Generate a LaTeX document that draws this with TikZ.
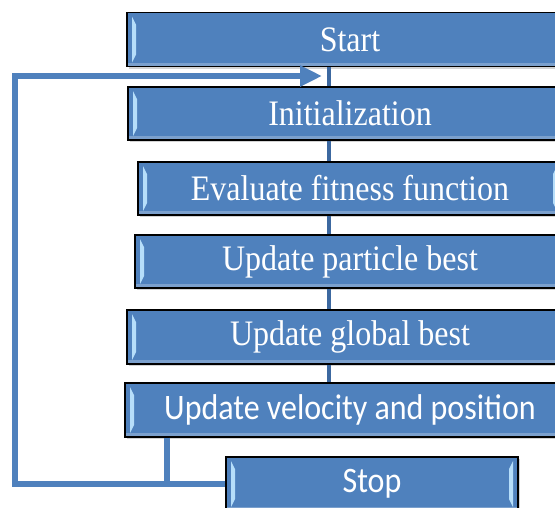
\documentclass[tikz,border=0pt]{standalone}
\usepackage{fontspec}
\setmainfont{Liberation Serif}
\newfontfamily\calibfont{Carlito}
\usepackage{graphicx}
\usetikzlibrary{arrows.meta,shadows}
\definecolor{psoblue}{RGB}{79,129,189}
\definecolor{psodark}{RGB}{60,104,160}
\definecolor{psoglow}{RGB}{182,222,250}
\newcommand{\tallText}[1]{\scalebox{1}[1.12]{#1}}

\tikzset{
  stepbox/.style={draw=black, line width=1.4pt, fill=psoblue, text=white,
    minimum height=54pt, inner sep=0pt, font=\fontsize{32}{36}\selectfont,
    drop shadow={shadow xshift=2pt,shadow yshift=-2pt,opacity=0.35},
    path picture={
      %% left bevel
      \fill[psoglow] ([shift={(5pt,-4pt)}]path picture bounding box.north west)
        -- ++(4pt,-8pt) -- ([shift={(9pt,12pt)}]path picture bounding box.south west)
        -- ([shift={(5pt,4pt)}]path picture bounding box.south west) -- cycle;
      %% right bevel
      \fill[psoglow] ([shift={(-5pt,-4pt)}]path picture bounding box.north east)
        -- ++(-4pt,-8pt) -- ([shift={(-9pt,12pt)}]path picture bounding box.south east)
        -- ([shift={(-5pt,4pt)}]path picture bounding box.south east) -- cycle;
      %% lower glow
      \fill[white,opacity=0.25] (path picture bounding box.south west) rectangle
        ([yshift=4pt]path picture bounding box.south east);
    }},
  calibbox/.style={stepbox, font=\calibfont\fontsize{32}{36}\selectfont},
  loopline/.style={psoblue, line width=6pt},
  spineline/.style={psodark, line width=4pt}
}

\begin{document}
\begin{tikzpicture}[x=1pt,y=-1pt]
\useasboundingbox (0,0) rectangle (555,507);
\clip (0,0) rectangle (555,507);
%%steps
\node[stepbox, minimum width=446pt] (start) at (350,39.5) {\tallText{Start}};
\node[stepbox, minimum width=444pt, minimum height=53pt] (init) at (350,113.5) {\tallText{Initialization}};
\node[stepbox, minimum width=424pt, minimum height=53pt] (eval) at (350,188.5) {\tallText{Evaluate fitness function}};
\node[stepbox, minimum width=430pt, minimum height=53pt] (pbest) at (350,261.5) {\tallText{Update particle best}};
\node[stepbox, minimum width=446pt] (gbest) at (350,337) {\tallText{Update global best}};
\node[calibbox, minimum width=450pt] (velo) at (350,410) {\tallText{Update velocity and position}};
\node[calibbox, minimum width=292pt] (stop) at (372,484) {\tallText{Stop}};

%%connectors
\coordinate (spine) at (329,0);
\coordinate (drop) at (167,0);
\coordinate (rim) at (15,0);
\coordinate (back) at (322,76);
\draw[spineline] (start.south -| spine) -- (init.north -| spine);
\draw[spineline] (init.south -| spine) -- (eval.north -| spine);
\draw[spineline] (eval.south -| spine) -- (pbest.north -| spine);
\draw[spineline] (pbest.south -| spine) -- (gbest.north -| spine);
\draw[spineline] (gbest.south -| spine) -- (velo.north -| spine);
%%loop back
\draw[loopline] (velo.south -| drop) |- (stop.west);
\draw[loopline, -{Triangle[length=22pt,width=20pt]}] (drop |- stop.west) -- (rim |- stop.west) |- (back);
\end{tikzpicture}
\end{document}
